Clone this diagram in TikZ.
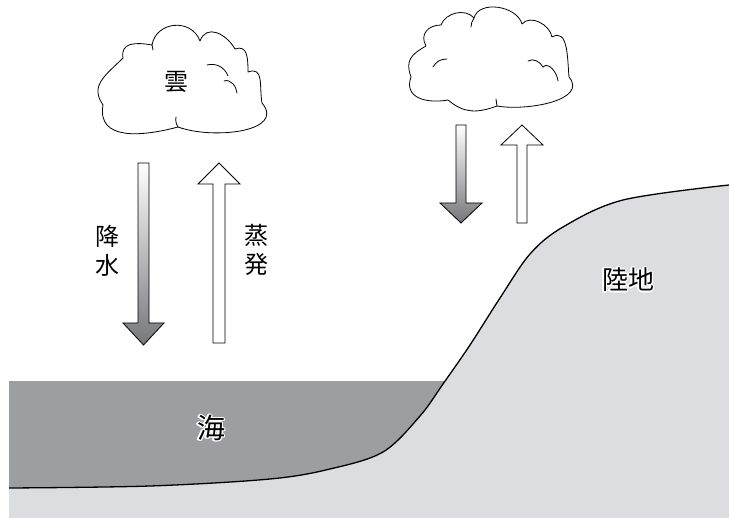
\documentclass[tikz,border=0pt]{standalone}
\usepackage{fontspec}
\newfontfamily\jp{Noto Sans CJK JP}
\definecolor{seagray}{RGB}{157,158,162}
\definecolor{landgray}{RGB}{220,221,224}
\definecolor{arrowdark}{RGB}{118,119,124}
\definecolor{arrowmid}{RGB}{224,224,227}
\tikzset{
  coastline/.style={line width=1.3pt, draw=black},
  cloudline/.style={line width=0.8pt, draw=black, fill=white, line join=round},
  cloudmark/.style={line width=0.8pt, draw=black, line cap=round},
  lobe/.style={looseness=1.3},
  rainarrow/.style={draw=black, line width=0.8pt, top color=white, middle color=arrowmid, bottom color=arrowdark},
  vaporarrow/.style={draw=black, line width=0.8pt, fill=white},
  jptext/.style={font=\jp\fontsize{24}{29}\selectfont, inner sep=0pt, align=center},
}
\begin{document}
\begin{tikzpicture}[x=1pt, y=-1pt]
\useasboundingbox (0,0) rectangle (729,518);
\fill[white] (0,0) rectangle (729,518);

% land below the coastline
\fill[landgray] plot[smooth, tension=0.55] coordinates {(9,488) (150,486) (270,479) (330,469) (383,452) (420,416) (443,384) (470,345) (500,298) (530,254) (563,227) (623,200) (729,185)} -- (729,518) -- (9,518) -- cycle;

% sea: above the coastline, below the water surface
\begin{scope}
  \clip (9,382) rectangle (729,518);
  \fill[seagray] plot[smooth, tension=0.55] coordinates {(9,488) (150,486) (270,479) (330,469) (383,452) (420,416) (443,384) (470,345) (500,298) (530,254) (563,227) (623,200) (729,185)} -- (729,0) -- (9,0) -- cycle;
\end{scope}

\draw[coastline] plot[smooth, tension=0.55] coordinates {(9,488) (150,486) (270,479) (330,469) (383,452) (420,416) (443,384) (470,345) (500,298) (530,254) (563,227) (623,200) (729,185)};

% arrows over the sea
\path[rainarrow] (138,163) -- (149,163) -- (149,323) -- (164,323) -- (143.5,345) -- (123,323) -- (138,323) -- cycle;
\path[vaporarrow] (219,163) -- (240,184) -- (225,184) -- (225,343) -- (213,343) -- (213,184) -- (198,184) -- cycle;

% arrows over the land
\path[rainarrow] (456,125) -- (466,125) -- (466,203) -- (482,203) -- (461,223) -- (440,203) -- (456,203) -- cycle;
\path[vaporarrow] (522,125) -- (543,145) -- (527,145) -- (527,223) -- (517,223) -- (517,145) -- (501,145) -- cycle;

% left cloud
\draw[cloudline] (123,58) to[out=100,in=170,lobe] (152,45)
  to[out=80,in=110,lobe] (200,41)
  to[out=70,in=120,lobe] (235,49)
  to[out=20,in=90,lobe] (248,72)
  to[out=20,in=100,lobe] (262,103)
  to[out=-50,in=-20,looseness=1.1] (178,127)
  to[out=195,in=-100,looseness=1.2] (103,105)
  to[out=125,in=225,looseness=1.2] (123,58) -- cycle;
\draw[cloudmark] (178,127) to[bend left=20] (176,117);
\draw[cloudmark] (152,45) -- (153,50);
\draw[cloudmark] (207,65) to[out=15,in=110] (228,76);
\draw[cloudmark] (224,81) to[out=20,in=95] (237,93);

% right cloud
\draw[cloudline] (426,46) to[out=120,in=180,lobe] (441,25)
  to[out=70,in=130,looseness=1.0] (474,18)
  to[out=75,in=105,looseness=1.0] (522,24)
  to[out=50,in=100,looseness=1.0] (552,37)
  to[out=30,in=95,looseness=1.1] (569,77)
  to[out=-50,in=-10,looseness=1.0] (497,106)
  to[out=200,in=-40,looseness=1.1] (448,100)
  to[out=190,in=-110,lobe] (411,77)
  to[out=110,in=210,lobe] (426,46) -- cycle;
\draw[cloudmark] (474,18) to[bend right=15] (471,27);
\draw[cloudmark] (497,106) -- (496,99);
\draw[cloudmark] (433,67) to[out=60,in=180] (447,59);
\draw[cloudmark] (528,61) to[out=30,in=120] (543,67);
\draw[cloudmark] (543,67) to[out=45,in=95] (558,81);

% labels
\node[jptext] (cloud) at (176,82) {雲};
\node[jptext] (rain) at (107,250.5) {降\\水};
\node[jptext] (evap) at (256,250) {蒸\\発};

% white halo behind the labels on the grey areas
\foreach \a in {0,30,...,330}
  \node[jptext, text=white, font=\jp\fontsize{28}{34}\selectfont, shift={(\a:1.2pt)}] at (211,428) {海};
\node[jptext, font=\jp\fontsize{28}{34}\selectfont] (sea) at (211,428) {海};

\foreach \a in {0,30,...,330}
  \node[jptext, text=white, font=\jp\fontsize{26}{31}\selectfont, shift={(\a:1.2pt)}] at (628,280) {陸地};
\node[jptext, font=\jp\fontsize{26}{31}\selectfont] (land) at (628,280) {陸地};
\end{tikzpicture}
\end{document}
